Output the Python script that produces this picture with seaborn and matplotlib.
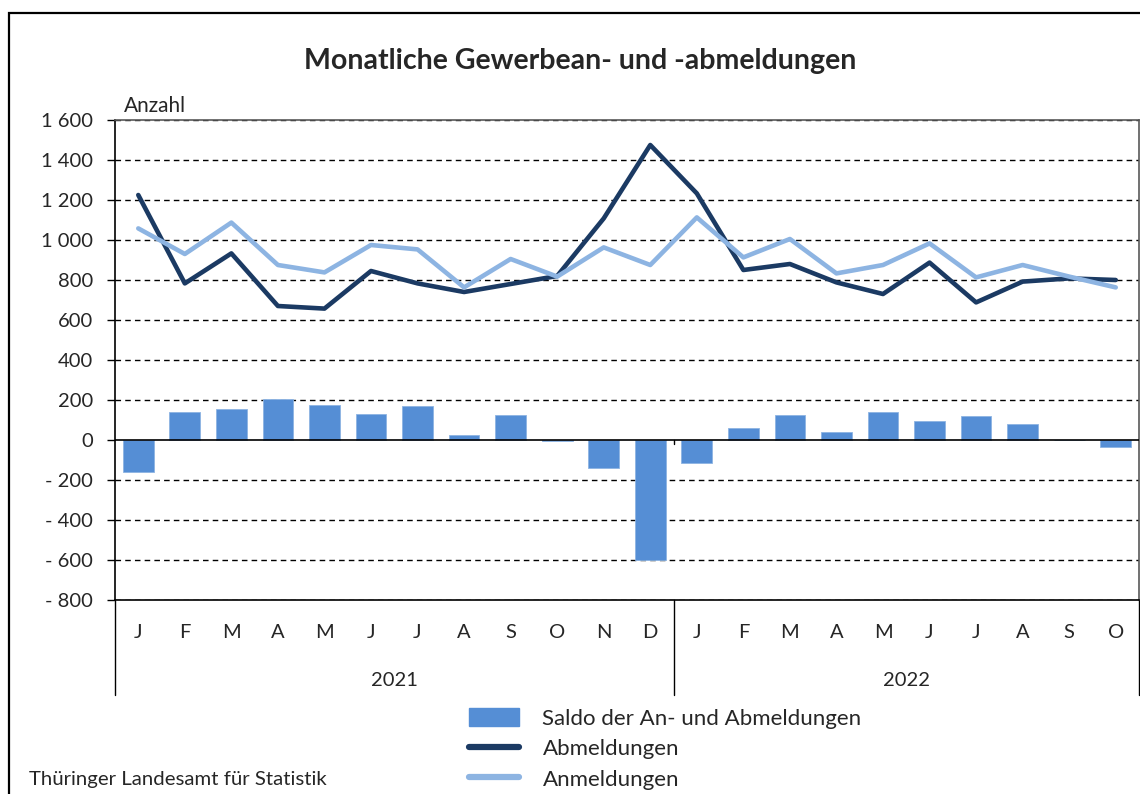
import numpy as np
import pandas as pd
import matplotlib
matplotlib.use('Agg')
import matplotlib.pyplot as plt
import seaborn as sns
from matplotlib.ticker import FuncFormatter, MultipleLocator
from matplotlib.lines import Line2D
from matplotlib.patches import Patch, Rectangle

# Monthly values (2021-01 .. 2022-10)
months = ['J', 'F', 'M', 'A', 'M', 'J', 'J', 'A', 'S', 'O', 'N', 'D',
          'J', 'F', 'M', 'A', 'M', 'J', 'J', 'A', 'S', 'O']
years = ['2021', '2022']
abmeldungen = [1225, 783, 933, 670, 657, 845, 783, 740, 780, 820, 1108, 1475,
               1233, 850, 880, 788, 730, 887, 688, 792, 808, 800]
anmeldungen = [1058, 930, 1087, 875, 838, 975, 953, 763, 905, 817, 963, 875,
               1113, 913, 1005, 833, 875, 983, 813, 875, 817, 763]
saldo = [-160, 142, 155, 203, 177, 130, 170, 25, 123, -3, -142, -600,
         -117, 60, 123, 42, 142, 95, 120, 80, 2, -33]

df = pd.DataFrame({
    'idx': np.arange(len(months)),
    'Saldo': saldo,
    'Abmeldungen': abmeldungen,
    'Anmeldungen': anmeldungen,
})

sns.set_style('white')
plt.rcParams['font.family'] = ['Lato', 'DejaVu Sans']

bar_color = '#558ED5'
dark_color = '#1B3A63'
light_color = '#8DB4E2'

fig = plt.figure(figsize=(11.4, 7.94), dpi=100)
ax = fig.add_axes([115 / 1140, 1 - 600 / 794, 1024 / 1140, 480 / 794])

sns.barplot(data=df, x='idx', y='Saldo', native_scale=True, color=bar_color,
            width=0.66, saturation=1, edgecolor='#8DB4E2', linewidth=0.6, ax=ax, zorder=3)
sns.lineplot(data=df, x='idx', y='Abmeldungen', color=dark_color, linewidth=3.3,
             ax=ax, zorder=4, solid_capstyle='round')
sns.lineplot(data=df, x='idx', y='Anmeldungen', color=light_color, linewidth=3.3,
             ax=ax, zorder=5, solid_capstyle='round')

ax.set_xlim(-0.5, len(months) - 0.5)
ax.set_ylim(-800, 1600)
ax.yaxis.set_major_locator(MultipleLocator(200))
ax.yaxis.set_major_formatter(FuncFormatter(
    lambda v, p: ('- ' if v < 0 else '') + f'{abs(int(v)):,}'.replace(',', ' ')))
ax.tick_params(axis='y', which='major', length=6, width=1, color='black',
               labelsize=14.5, pad=10, left=True)
ax.set_xticks([])
ax.set_xlabel('')
ax.set_ylabel('')

# dashed gridlines
for v in range(-800, 1601, 200):
    if v == 0:
        continue
    ax.axhline(v, color='black', linestyle=(0, (4, 3)), linewidth=1.0, zorder=1)
ax.axhline(0, color='black', linewidth=1.2, zorder=6)

for side in ['left', 'bottom']:
    ax.spines[side].set_color('black')
    ax.spines[side].set_linewidth(1.2)
for side in ['top', 'right']:
    ax.spines[side].set_color('#595959')
    ax.spines[side].set_linewidth(1.2)

# month letters and year labels below the plot
for i, m in enumerate(months):
    ax.text(i, -0.067, m, transform=ax.get_xaxis_transform(), ha='center', va='center',
            fontsize=14.5)
ax.text(5.5, -0.167, years[0], transform=ax.get_xaxis_transform(), ha='center',
        va='center', fontsize=14.5)
ax.text(16.5, -0.167, years[1], transform=ax.get_xaxis_transform(), ha='center',
        va='center', fontsize=14.5)
for xs in [-0.5, 11.5, len(months) - 0.5]:
    ax.axvline(xs, ymin=-0.198, ymax=0, color='black', linewidth=1.0, clip_on=False)
ax.plot([11.5, 11.5], [0, -18], color='black', linewidth=1.0, zorder=6)

ax.text(9 / 1024, 1.008, 'Anzahl', transform=ax.transAxes, ha='left', va='bottom',
        fontsize=15)
fig.text(580 / 1140, 1 - 61 / 794, 'Monatliche Gewerbean- und -abmeldungen',
         ha='center', va='center', fontsize=20.5, fontweight='bold')
fig.text(29 / 1140, 1 - 780 / 794, 'Thüringer Landesamt für Statistik',
         ha='left', va='center', fontsize=14.7)

# legend
handles = [Patch(facecolor=bar_color, edgecolor=bar_color),
           Line2D([], [], color=dark_color, linewidth=4.5, solid_capstyle='round'),
           Line2D([], [], color=light_color, linewidth=4.5, solid_capstyle='round')]
labels = ['Saldo der An- und Abmeldungen', 'Abmeldungen', 'Anmeldungen']
fig.legend(handles, labels, loc='upper left', bbox_to_anchor=(458 / 1140, 1 - 697 / 794),
           frameon=False, fontsize=16, handlelength=2.25, handleheight=0.85,
           labelspacing=0.45, handletextpad=1.05, borderpad=0)

# outer frame
fig.patches.append(Rectangle((8.5 / 1140, -0.1), 1.2, 1 - 13 / 794 + 0.1,
                             transform=fig.transFigure, fill=False,
                             edgecolor='black', linewidth=1.6))

fig.savefig('out.png', dpi=100)
